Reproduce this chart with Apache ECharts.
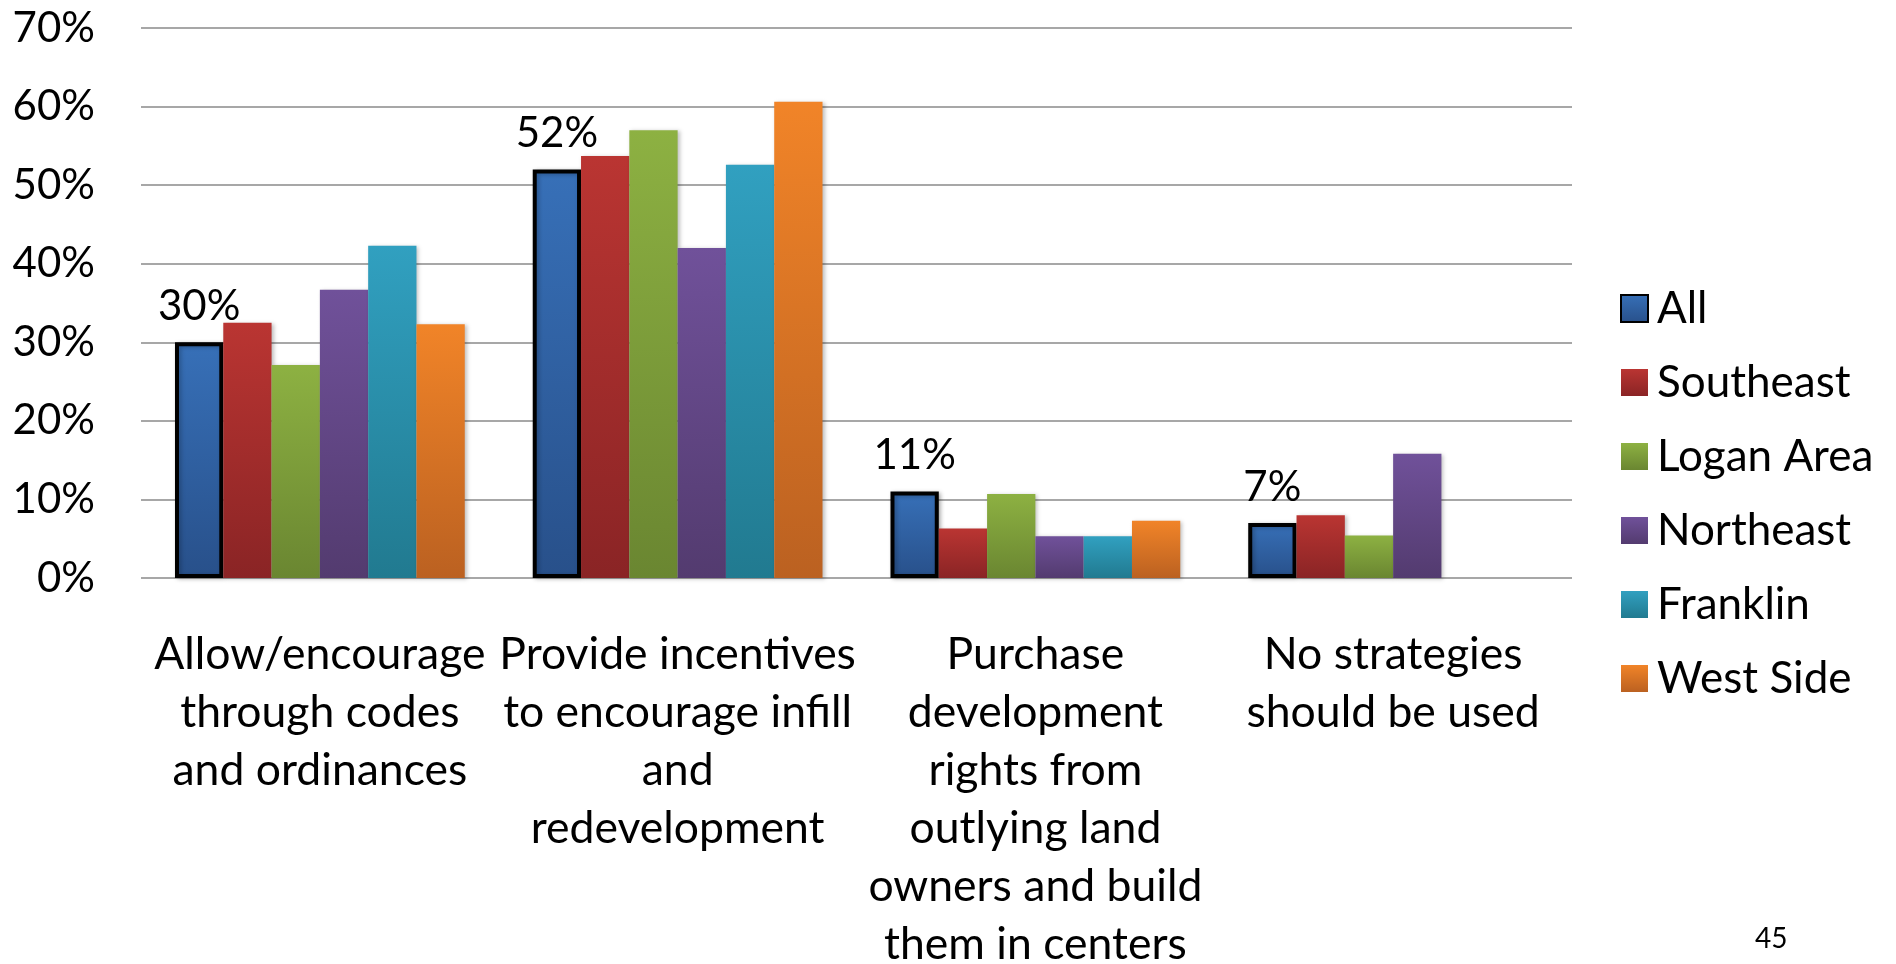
<!DOCTYPE html>
<html>
<head>
<meta charset="utf-8">
<script src="https://cdn.jsdelivr.net/npm/echarts@6/dist/echarts.min.js"></script>
<style>
html,body{margin:0;padding:0;background:#fff;}
#chart{width:1896px;height:964px;}
</style>
</head>
<body>
<div id="chart"></div>
<script>
var categories = [
  "Allow/encourage\nthrough codes\nand ordinances",
  "Provide incentives\nto encourage infill\nand\nredevelopment",
  "Purchase\ndevelopment\nrights from\noutlying land\nowners and build\nthem in centers",
  "No strategies\nshould be used"
];
var seriesNames = ["All", "Southeast", "Logan Area", "Northeast", "Franklin", "West Side"];
var allValues = [30, 52, 11, 7];
var southeastValues = [32.5, 53.7, 6.3, 8.0];
var loganValues = [27.1, 57.0, 10.7, 5.4];
var northeastValues = [36.7, 42.0, 5.3, 15.8];
var franklinValues = [42.3, 52.6, 5.3, null];
var westSideValues = [32.3, 60.6, 7.3, null];
var yTicks = [0, 10, 20, 30, 40, 50, 60, 70];
var pageNumber = "45";

var FONT = "Lato";
var topColors = ["#3770B8", "#BA3532", "#8DB142", "#70519A", "#31A0C0", "#F18428"];
var bottomColors = ["#28508A", "#8A2425", "#6A8631", "#533B6F", "#217A90", "#BB6121"];
var valuesList = [allValues, southeastValues, loganValues, northeastValues, franklinValues, westSideValues];

function grad(i) {
  return {type: 'linear', x: 0, y: 0, x2: 0, y2: 1,
    colorStops: [{offset: 0, color: topColors[i]}, {offset: 1, color: bottomColors[i]}]};
}

var series = seriesNames.map(function (name, i) {
  var s = {
    name: name,
    type: 'bar',
    data: valuesList[i],
    barGap: '0%',
    barCategoryGap: '19%',
    itemStyle: {
      color: grad(i),
      shadowBlur: 4,
      shadowColor: 'rgba(0,0,0,0.25)',
      shadowOffsetX: 2,
      shadowOffsetY: 1
    }
  };
  if (i === 0) {
    s.itemStyle.borderColor = '#000';
    s.itemStyle.borderWidth = 4;
    s.label = {
      show: true,
      position: 'top',
      distance: 15,
      formatter: '{c}%',
      color: '#000',
      fontFamily: FONT,
      fontSize: 42
    };
  }
  return s;
});

var chart = echarts.init(document.getElementById('chart'), null, {renderer: 'canvas'});
chart.setOption({
  animation: false,
  backgroundColor: '#fff',
  grid: {left: 141, right: 324, top: 28, bottom: 386, containLabel: false, outerBoundsMode: 'none'},
  xAxis: {
    type: 'category',
    data: categories,
    axisLine: {show: false},
    axisTick: {show: false},
    axisLabel: {
      interval: 0,
      margin: 48,
      color: '#000',
      fontFamily: FONT,
      fontSize: 44.5,
      lineHeight: 58,
      align: 'center'
    }
  },
  yAxis: {
    type: 'value',
    min: yTicks[0],
    max: yTicks[yTicks.length - 1],
    interval: 10,
    axisLine: {show: false},
    axisTick: {show: false},
    splitLine: {lineStyle: {color: '#8A8A8A', width: 1.5}},
    axisLabel: {
      formatter: '{value}%',
      margin: 46,
      color: '#000',
      fontFamily: FONT,
      fontSize: 42
    }
  },
  legend: {
    orient: 'vertical',
    left: 1615,
    top: 280,
    icon: 'rect',
    itemWidth: 27,
    itemHeight: 27,
    itemGap: 27,
    data: seriesNames,
    textStyle: {
      color: '#000',
      fontFamily: FONT,
      fontSize: 44,
      lineHeight: 47,
      padding: [0, 0, 0, 4]
    }
  },
  graphic: [{
    type: 'text',
    left: 1755,
    top: 925,
    style: {text: pageNumber, fontFamily: FONT, fontSize: 28, fill: '#000'}
  }],
  series: series
});
</script>
</body>
</html>
